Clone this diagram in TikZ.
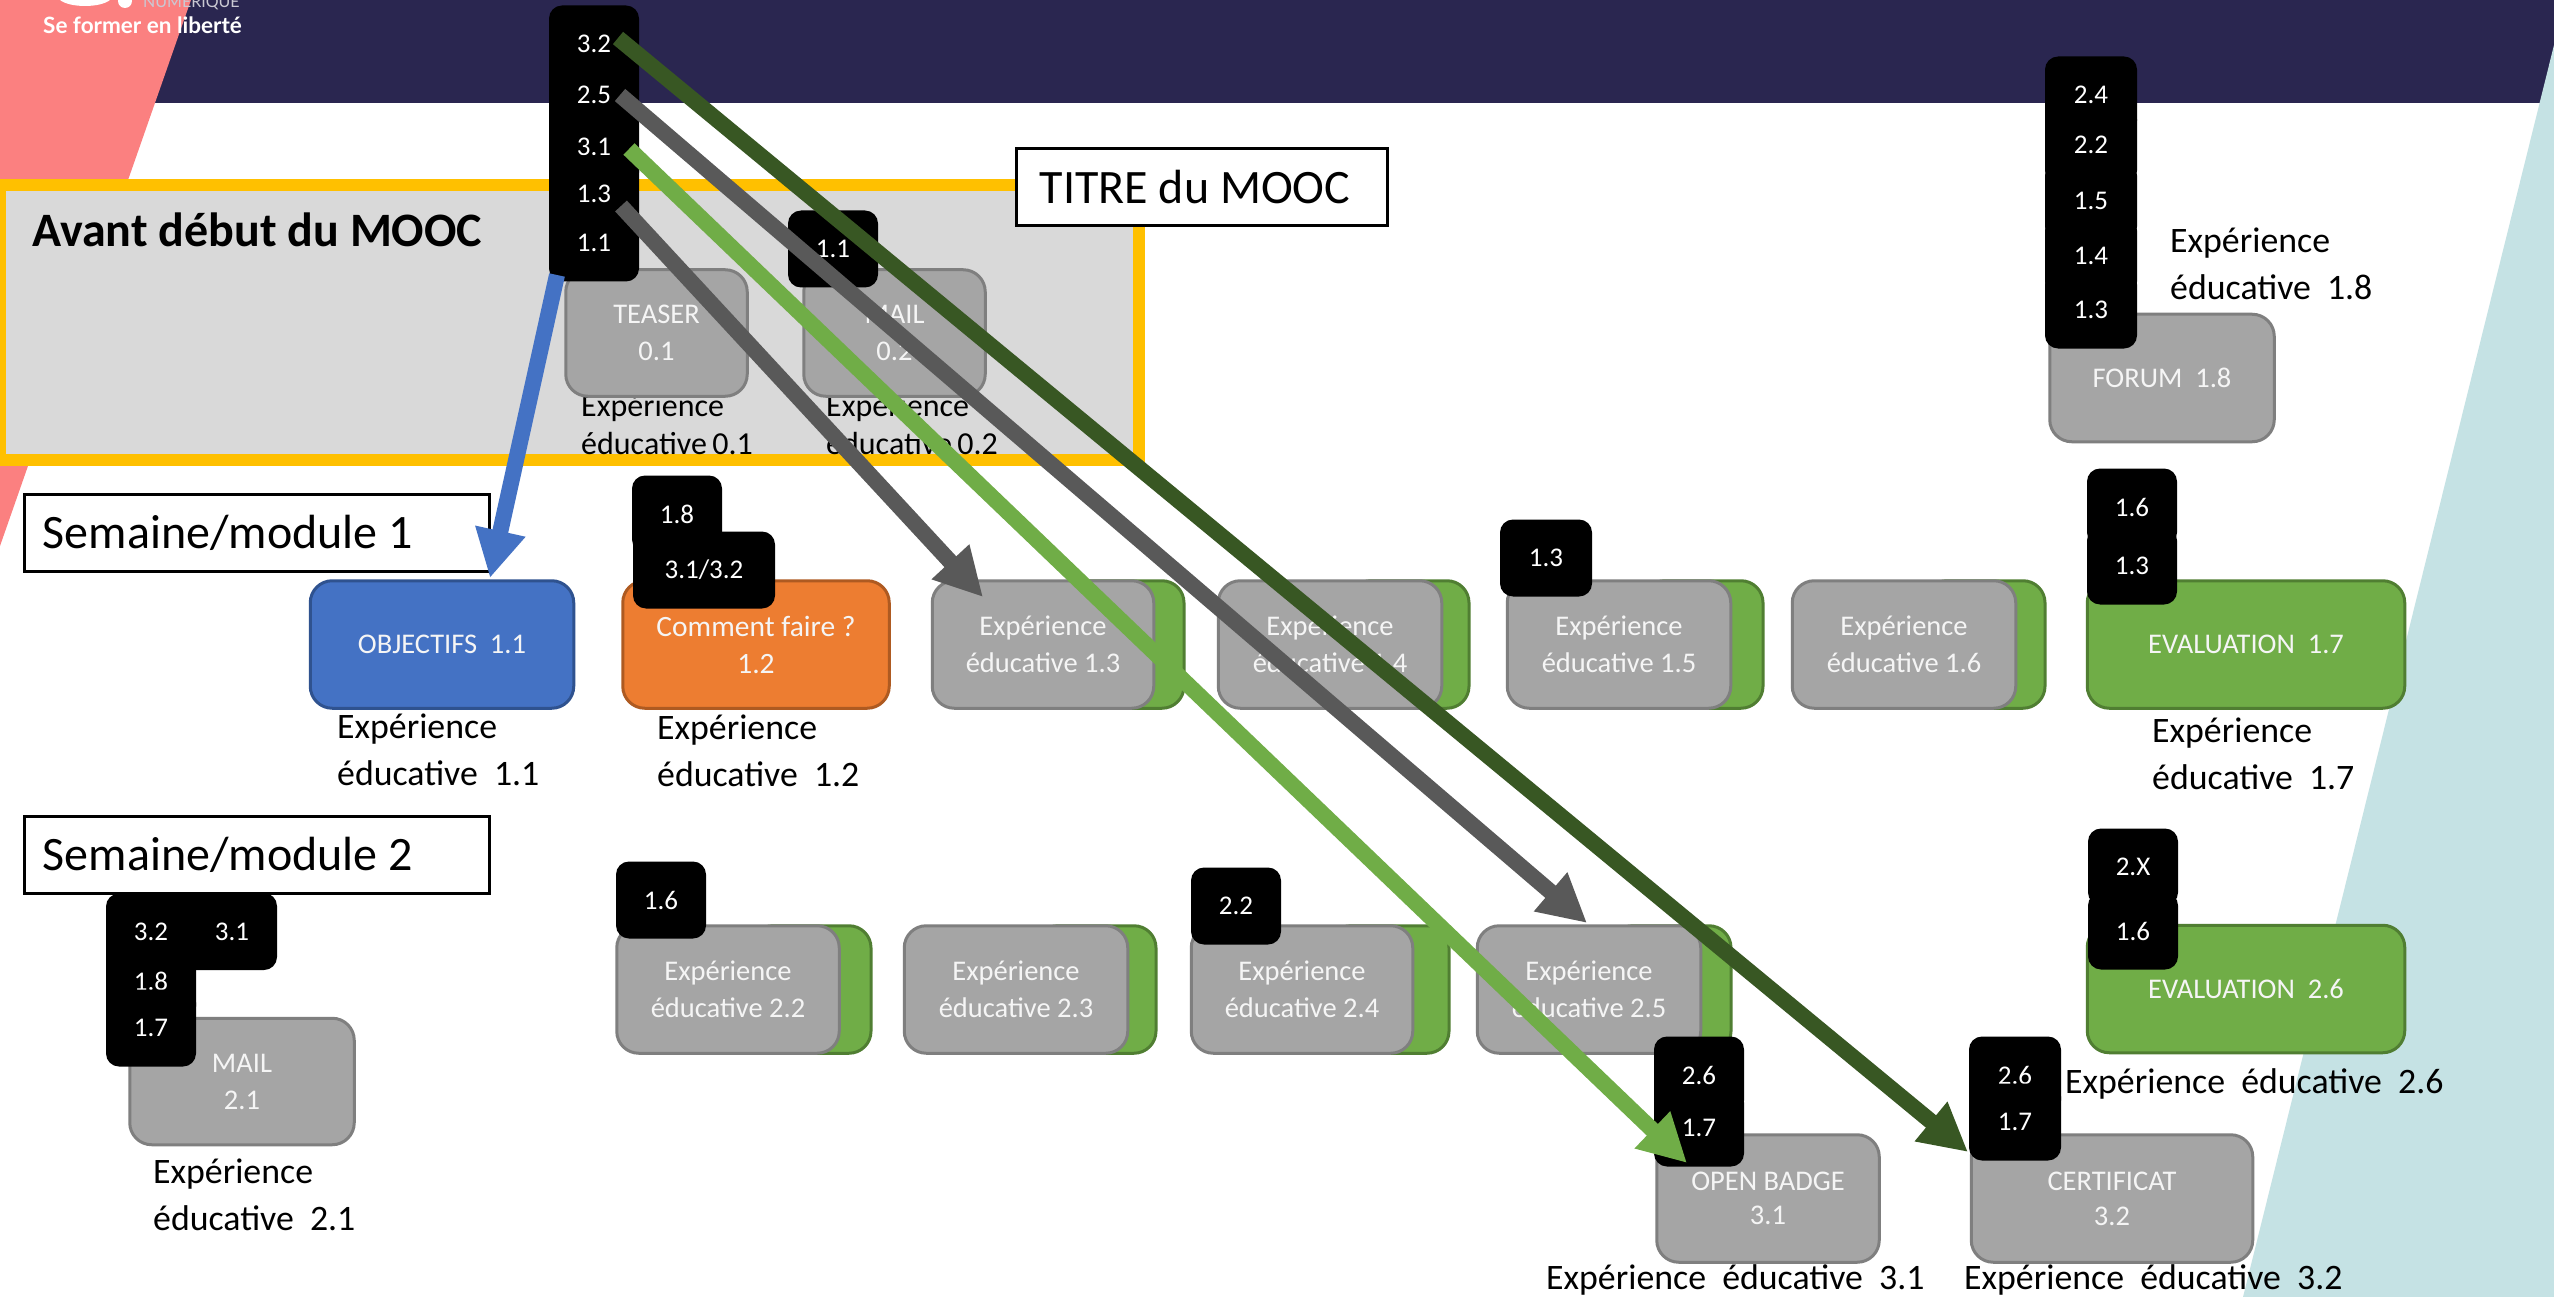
\documentclass[tikz,border=0pt]{standalone}
\usepackage{fontspec}
\setmainfont{Carlito}
\newfontfamily\logofont{Lato}
\usetikzlibrary{arrows.meta}
\definecolor{navy}{HTML}{2A2650}
\definecolor{pinkbg}{HTML}{FB8080}
\definecolor{tealbg}{HTML}{C5E2E4}
\definecolor{frameY}{HTML}{FFC000}
\definecolor{frameF}{HTML}{D9D9D9}
\definecolor{gFill}{HTML}{A5A5A5}
\definecolor{gLine}{HTML}{7F7F7F}
\definecolor{grFill}{HTML}{70AD47}
\definecolor{grLine}{HTML}{507E32}
\definecolor{blFill}{HTML}{4472C4}
\definecolor{blLine}{HTML}{2F528F}
\definecolor{orFill}{HTML}{ED7D31}
\definecolor{orLine}{HTML}{AE5A21}
\definecolor{arrGrey}{HTML}{595959}
\definecolor{arrDark}{HTML}{385723}
\tikzset{
  card/.style={rectangle,rounded corners=22pt,line width=3pt,inner sep=0pt,align=center,text=white!96!black,
    font=\fontsize{28.5}{37}\selectfont,minimum height=127.5pt},
  greycard/.style={card,fill=gFill,draw=gLine},
  greencard/.style={card,fill=grFill,draw=grLine},
  bluecard/.style={card,fill=blFill,draw=blLine},
  orangecard/.style={card,fill=orFill,draw=orLine},
  tagbox/.style={rectangle,rounded corners=13pt,fill=black,text=white,inner sep=0pt,align=center,
    font=\fontsize{27}{30}\selectfont,minimum width=90pt,minimum height=77pt},
  lab/.style={inner sep=0pt,align=left,anchor=west,text=black,font=\fontsize{35.8}{47}\selectfont},
  smalllab/.style={lab,font=\fontsize{32}{38}\selectfont},
  titlebox/.style={rectangle,draw=black,fill=white,line width=3pt,inner sep=0pt,font=\fontsize{48}{50}\selectfont,text=black},
  link/.style={line width=16pt,-{Triangle[length=48pt,width=48pt]}},
}
\begin{document}
\begin{tikzpicture}[x=1pt,y=-1pt]
\clip (0,0) rectangle (2554,1297);
\useasboundingbox (0,0) rectangle (2554,1297);
% background
\fill[white] (0,0) rectangle (2554,1297);
\fill[navy] (0,0) rectangle (2554,103);
\fill[pinkbg] (0,0) -- (191,0) -- (0,546) -- cycle;
\fill[tealbg] (2554,45) -- (2243,1297) -- (2554,1297) -- cycle;
% logo fragments
\fill[white] (60,0) .. controls (70,8) and (100,8) .. (110,0) -- cycle;
\fill[white] (125,1) circle (7);
\node[inner sep=0pt,anchor=base west,text=white!75!navy,font=\logofont\fontsize{16}{18}\selectfont] (logoa) at (143,8) {NUMÉRIQUE};
\node[inner sep=0pt,anchor=base west,text=white,font=\logofont\bfseries\fontsize{22.5}{24}\selectfont] (logob) at (43,34) {Se former en liberté};
% pre-MOOC frame
\draw[frameY,fill=frameF,line width=12pt] (0,185) rectangle (1139,460);
\node[inner sep=0pt,anchor=west,font=\bfseries\fontsize{48}{50}\selectfont] (avant) at (32,230) {Avant début du MOOC};
% title boxes
\node[titlebox,minimum width=371pt,minimum height=77pt] (titre) at (1202,187) {\hspace*{-14pt}TITRE du MOOC};
\node[titlebox,minimum width=465.5pt,minimum height=77pt] (sem1) at (257,533) {\hspace*{-58pt}Semaine/module 1};
\node[titlebox,minimum width=465.5pt,minimum height=77pt] (sem2) at (257,855) {\hspace*{-58pt}Semaine/module 2};
% labels
\node[smalllab] (l01) at (581,425) {Expérience\\éducative\,0.1};
\node[smalllab] (l02) at (826,425) {Expérience\\éducative\,0.2};
\node[lab] (l11) at (337,750) {Expérience\\éducative~~1.1};
\node[lab] (l12) at (657,751) {Expérience\\éducative~~1.2};
\node[lab] (l17) at (2152,754) {Expérience\\éducative~~1.7};
\node[lab] (l18) at (2170,264) {Expérience\\éducative~~1.8};
\node[lab] (l21) at (153,1195) {Expérience\\éducative~~2.1};
\node[lab] (l26) at (2065,1084) {Expérience~~éducative~~2.6};
\node[lab] (l31) at (1546,1280) {Expérience~~éducative~~3.1};
\node[lab] (l32) at (1964,1280) {Expérience~~éducative~~3.2};
% cards: pre-MOOC
\node[greycard,minimum width=181.5pt,minimum height=126.5pt] (teaser) at (656.5,333) {TEASER\\0.1};
\node[greycard,minimum width=181.5pt,minimum height=126.5pt] (mailb) at (894.5,333) {MAIL\\0.2};
\node[greycard,minimum width=224.5pt] (forum) at (2162,378) {FORUM~~1.8};
% week 1
\node[bluecard,minimum width=263.5pt] (obj) at (442,644.5) {OBJECTIFS~~1.1};
\node[orangecard,minimum width=266.5pt,font=\fontsize{29.5}{37}\selectfont] (comment) at (756,644.5) {Comment faire ?\\1.2};
\node[greencard,minimum width=120pt] (g13) at (1124,644.5) {};
\node[greycard,minimum width=221.5pt] (e13) at (1043,644.5) {Expérience\\éducative 1.3};
\node[greencard,minimum width=120pt] (g14) at (1409,644.5) {};
\node[greycard,minimum width=223.5pt] (e14) at (1330,644.5) {Expérience\\éducative 1.4};
\node[greencard,minimum width=120pt] (g15) at (1703,644.5) {};
\node[greycard,minimum width=223.5pt] (e15) at (1619,644.5) {Expérience\\éducative 1.5};
\node[greencard,minimum width=120pt] (g16) at (1985,644.5) {};
\node[greycard,minimum width=223.5pt] (e16) at (1904,644.5) {Expérience\\éducative 1.6};
\node[greencard,minimum width=317.5pt] (ev17) at (2246,644.5) {EVALUATION~~1.7};
% week 2
\node[greycard,minimum width=224.5pt,minimum height=126.5pt] (mail21) at (242,1081.5) {MAIL\\2.1};
\node[greencard,minimum width=120pt] (g22) at (811,989.5) {};
\node[greycard,minimum width=222.5pt] (e22) at (728,989.5) {Expérience\\éducative 2.2};
\node[greencard,minimum width=120pt] (g23) at (1096,989.5) {};
\node[greycard,minimum width=223.5pt] (e23) at (1016,989.5) {Expérience\\éducative 2.3};
\node[greencard,minimum width=120pt] (g24) at (1389,989.5) {};
\node[greycard,minimum width=221.5pt] (e24) at (1302,989.5) {Expérience\\éducative 2.4};
\node[greencard,minimum width=120pt] (g25) at (1671,989.5) {};
\node[greycard,minimum width=223.5pt] (e25) at (1589,989.5) {Expérience\\éducative 2.5};
\node[greencard,minimum width=317.5pt] (ev26) at (2246,989) {EVALUATION~~2.6};
% week 3
\node[greycard,minimum width=222.5pt] (open) at (1768,1198.5) {\raisebox{-3pt}{OPEN BADGE}\\3.1};
\node[greycard,minimum width=281.5pt] (cert) at (2112,1198.5) {\raisebox{-2pt}{CERTIFICAT}\\3.2};
% tags: top stack
\node[tagbox] (t32) at (594,44) {3.2};
\node[tagbox] (t25) at (594,95) {2.5};
\node[tagbox] (t31) at (594,147) {3.1};
\node[tagbox] (t13) at (594,194) {1.3};
\node[tagbox] (t11) at (594,243) {1.1};
\node[tagbox] (tm11) at (833,249) {1.1};
% forum stack
\node[tagbox,minimum width=92pt] (f24) at (2091,95) {2.4};
\node[tagbox,minimum width=92pt] (f22) at (2091,145) {2.2};
\node[tagbox,minimum width=92pt] (f15) at (2091,201) {1.5};
\node[tagbox,minimum width=92pt] (f14) at (2091,256) {1.4};
\node[tagbox,minimum width=92pt] (f13) at (2091,310) {1.3};
% week 1 tags
\node[tagbox] (c18) at (677,514) {1.8};
\node[tagbox,minimum width=142pt] (c3132) at (704,570) {3.1/3.2};
\node[tagbox,minimum width=92pt] (e15t) at (1546,558) {1.3};
\node[tagbox] (ev16) at (2132,507) {1.6};
\node[tagbox] (ev13) at (2132,566) {1.3};
% week 2 tags
\node[tagbox,minimum width=120pt] (m31) at (217,931.5) {\hspace*{30pt}3.1};
\node[tagbox] (m32) at (151,932) {3.2};
\node[tagbox] (m18) at (151,981) {1.8};
\node[tagbox] (m17) at (151,1028) {1.7};
\node[tagbox] (e22t) at (661,900) {1.6};
\node[tagbox] (e24t) at (1236,906) {2.2};
\node[tagbox] (ev2x) at (2133,867) {2.X};
\node[tagbox] (ev2s) at (2133,931) {1.6};
\node[tagbox] (o26) at (1699,1075) {2.6};
\node[tagbox] (o17) at (1699,1128) {1.7};
\node[tagbox,minimum width=92pt] (c26) at (2015,1075) {2.6};
\node[tagbox,minimum width=92pt] (c17) at (2015,1122) {1.7};
% connector ends
\coordinate (s11) at (557,275);
\coordinate (e11) at (490,578);
\coordinate (s13) at (621,206);
\coordinate (e13t) at (983,597);
\coordinate (s25) at (620,95);
\coordinate (e25t) at (1587,923);
\coordinate (s31) at (629,149);
\coordinate (e31t) at (1687,1163);
\coordinate (s32) at (618,38);
\coordinate (e32t) at (1968,1152);
% connectors
\draw[link,blFill] (s11) -- (e11);
\draw[link,arrGrey] (s13) -- (e13t);
\draw[link,arrGrey] (s25) -- (e25t);
\draw[link,grFill] (s31) -- (e31t);
\draw[link,arrDark] (s32) -- (e32t);
\end{tikzpicture}
\end{document}
